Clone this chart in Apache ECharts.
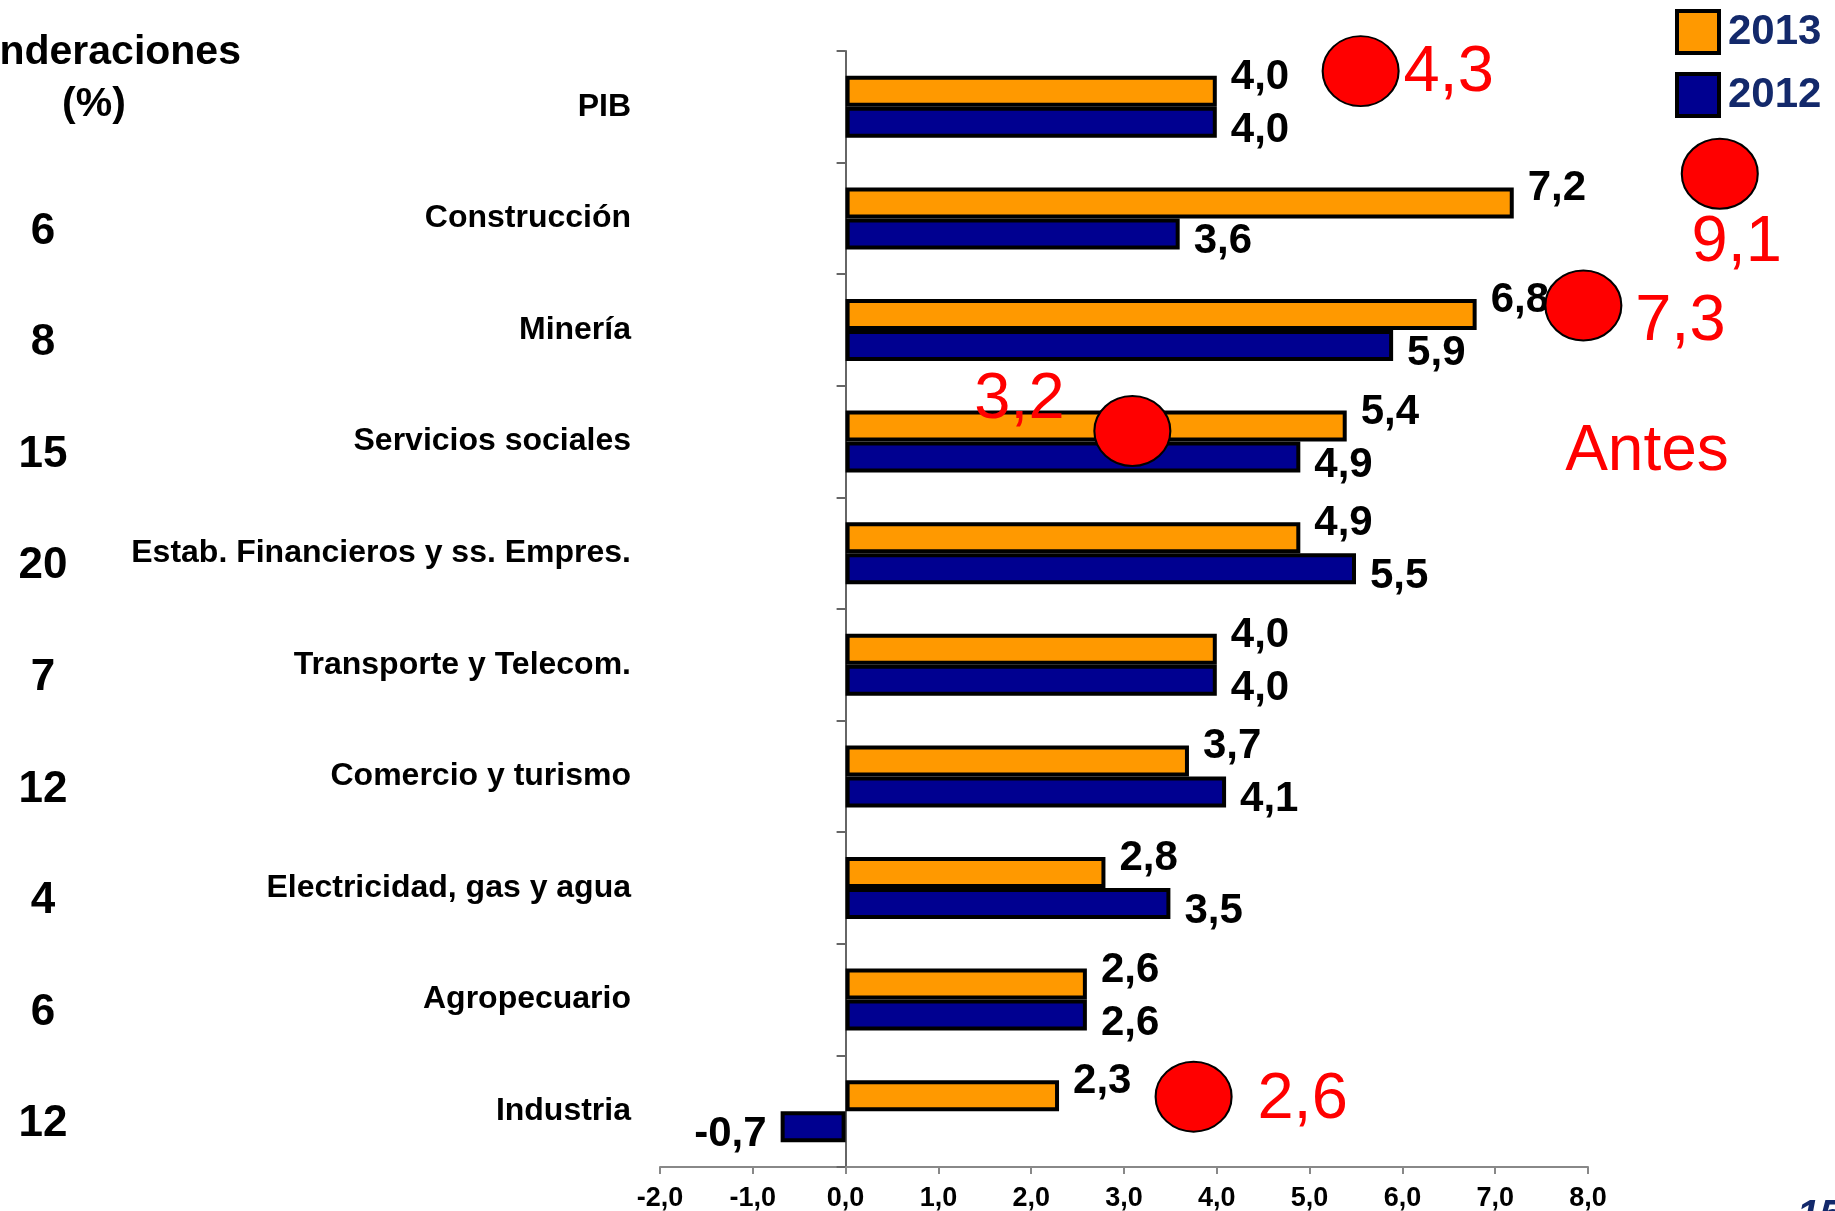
<!DOCTYPE html>
<html>
<head>
<meta charset="utf-8">
<script src="https://cdn.jsdelivr.net/npm/echarts@6/dist/echarts.min.js"></script>
<style>
html, body { margin: 0; padding: 0; background: #fff; }
#chartDom { width: 1835px; height: 1211px; }
</style>
</head>
<body>
<div id="chartDom"></div>
<script>
// categorias y datos (crecimiento %)
const sectores = ["PIB", "Construcción", "Minería", "Servicios sociales", "Estab. Financieros y ss. Empres.",
  "Transporte y Telecom.", "Comercio y turismo", "Electricidad, gas y agua", "Agropecuario", "Industria"];
const ponderaciones = ["", "6", "8", "15", "20", "7", "12", "4", "6", "12"];
const valores2013 = [4.0, 7.2, 6.8, 5.4, 4.9, 4.0, 3.7, 2.8, 2.6, 2.3];
const valores2012 = [4.0, 3.6, 5.9, 4.9, 5.5, 4.0, 4.1, 3.5, 2.6, -0.7];
const xTicks = [-2, -1, 0, 1, 2, 3, 4, 5, 6, 7, 8];
// valores "Antes"
const antesTexto = ["4,3", "9,1", "7,3", "3,2", "2,6"];
// donde van los circulos rojos (x en valor, y en indice de categoria) y su texto
const antesPos = [[5.55, -0.32], [9.42, 0.60], [7.95, 1.78], [3.09, 2.905], [3.75, 8.87]];
const antesOffset = [[88, 2], [17, 69], [97, 17], [-113, -31], [109, 3]];

const fmt = v => v.toFixed(1).replace(".", ",");
const font = "Liberation Sans";

let myChart = echarts.init(document.getElementById("chartDom"));

function barData(vals, dy) {
  return vals.map(v => ({
    value: v,
    label: v < 0 ? { position: "left", offset: [0, dy] } : undefined
  }));
}

myChart.setOption({
  animation: false,
  textStyle: { fontFamily: font },
  grid: { left: 660, right: 247, top: 51, bottom: 44, outerBoundsMode: "none", containLabel: false },
  legend: {
    data: ["2013", "2012"],
    orient: "vertical",
    left: 1670,
    top: 4,
    itemWidth: 42,
    itemHeight: 42,
    itemGap: 17,
    icon: "rect",
    itemStyle: { borderColor: "#000", borderWidth: 4 },
    textStyle: { fontSize: 42, fontWeight: "bold", color: "#13296b", fontFamily: font, padding: [0, 0, 0, 4] }
  },
  xAxis: {
    type: "value",
    min: xTicks[0],
    max: xTicks[xTicks.length - 1],
    interval: 1,
    splitLine: { show: false },
    axisLine: { show: true, onZero: false, lineStyle: { color: "#888", width: 2 } },
    axisTick: { show: true, length: 7, lineStyle: { color: "#888", width: 2 } },
    axisLabel: { fontSize: 27, fontWeight: "bold", color: "#000", margin: 18, formatter: fmt }
  },
  yAxis: [
    {
      type: "category",
      data: sectores,
      inverse: true,
      axisLine: { show: true, onZero: true, lineStyle: { color: "#666", width: 2 } },
      axisTick: { show: true, length: 9, lineStyle: { color: "#666", width: 2 } },
      axisLabel: { fontSize: 32, fontWeight: "bold", color: "#000", margin: 29 }
    },
    {
      type: "category",
      data: ponderaciones,
      inverse: true,
      position: "left",
      axisLine: { show: false, onZero: false },
      axisTick: { show: false },
      axisLabel: { fontSize: 44, fontWeight: "bold", color: "#000", margin: 617, align: "center", verticalAlign: "top", lineHeight: 26 }
    },
    {
      type: "value",
      min: -0.5,
      max: 9.5,
      inverse: true,
      show: false
    }
  ],
  series: [
    {
      name: "2013",
      type: "bar",
      data: barData(valores2013, -13),
      barWidth: 31,
      barGap: "0%",
      itemStyle: { color: "#FF9900", borderColor: "#000", borderWidth: 4 },
      label: { show: true, position: "right", distance: 14, offset: [0, -14], fontSize: 42, fontWeight: "bold", color: "#000", formatter: p => fmt(p.value) }
    },
    {
      name: "2012",
      type: "bar",
      data: barData(valores2012, 8),
      barWidth: 31,
      barGap: "0%",
      itemStyle: { color: "#000090", borderColor: "#000", borderWidth: 4 },
      label: { show: true, position: "right", distance: 14, offset: [0, 8], fontSize: 42, fontWeight: "bold", color: "#000", formatter: p => fmt(p.value) }
    },
    {
      name: "Antes",
      type: "scatter",
      yAxisIndex: 2,
      clip: false,
      symbol: "circle",
      symbolSize: [76, 70],
      itemStyle: { color: "#FF0000", borderColor: "#000", borderWidth: 2, opacity: 1 },
      data: antesPos.map((p, i) => ({
        value: p,
        label: { offset: antesOffset[i], formatter: antesTexto[i] }
      })),
      label: { show: true, position: "inside", fontSize: 65, color: "#FF0000", fontFamily: font }
    }
  ],
  graphic: [
    { type: "text", x: 94, y: 53, style: { text: "Ponderaciones", font: "bold 41px 'Liberation Sans'", fill: "#000", textAlign: "center", textVerticalAlign: "middle" } },
    { type: "text", x: 94, y: 105, style: { text: "(%)", font: "bold 41px 'Liberation Sans'", fill: "#000", textAlign: "center", textVerticalAlign: "middle" } },
    { type: "text", x: 1647, y: 452, style: { text: "Antes", font: "64px 'Liberation Sans'", fill: "#FF0000", textAlign: "center", textVerticalAlign: "middle" } },
    { type: "text", x: 1797, y: 1197, style: { text: "15", font: "italic bold 40px 'Liberation Sans'", fill: "#13296b", textAlign: "left", textVerticalAlign: "top" } }
  ]
});
</script>
</body>
</html>
